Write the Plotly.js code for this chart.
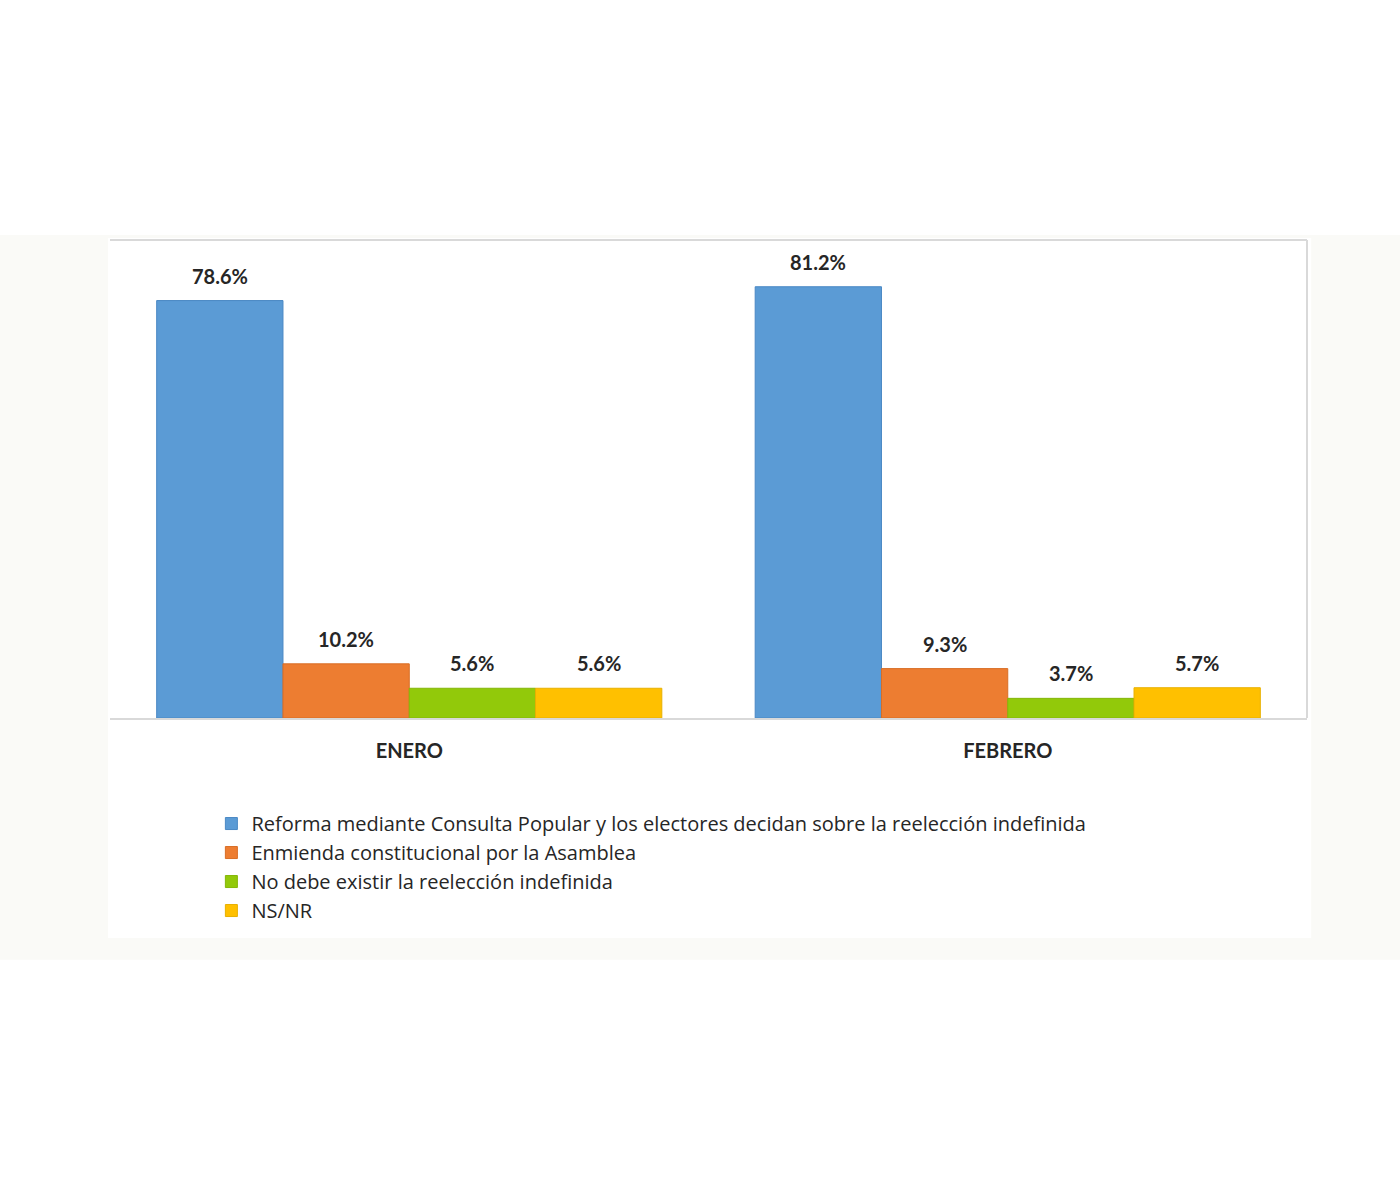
<!DOCTYPE html>
<html>
<head>
<meta charset="utf-8">
<script src="https://cdn.plot.ly/plotly-3.0.1.min.js"></script>
<style>
  html, body { margin: 0; padding: 0; background: #ffffff; }
  #chart { width: 1400px; height: 1200px; }
</style>
</head>
<body>
<div id="chart"></div>
<script>
const months = ["ENERO", "FEBRERO"];
const seriesNames = [
  "Reforma mediante Consulta Popular y los electores decidan sobre la reelección indefinida",
  "Enmienda constitucional por la Asamblea",
  "No debe existir la reelección indefinida",
  "NS/NR"
];
const reformaValues = [78.6, 81.2];
const enmiendaValues = [10.2, 9.3];
const noDebeValues = [5.6, 3.7];
const nsnrValues = [5.6, 5.7];
const seriesColors = ["#5b9bd5", "#ed7d31", "#92c90a", "#ffc000"];
const seriesLines = ["#4a88c4", "#d86e25", "#84b608", "#e8b000"];

const allValues = [reformaValues, enmiendaValues, noDebeValues, nsnrValues];
const barGap = 0.156;
const nSeries = allValues.length;
const barWidth = (1 - barGap) / nSeries;

const labelFont = { family: "Lato, 'DejaVu Sans', sans-serif", size: 20, color: "#262626", weight: "bold" };

const traces = allValues.map((vals, i) => ({
  type: "bar",
  name: seriesNames[i],
  x: months,
  y: vals,
  marker: { color: seriesColors[i], line: { color: seriesLines[i], width: 1 } },
  hoverinfo: "none"
}));

const annotations = [];
allValues.forEach((vals, i) => {
  vals.forEach((v, j) => {
    annotations.push({
      xref: "x", yref: "y",
      x: j + (i - (nSeries - 1) / 2) * barWidth,
      y: v,
      text: v.toFixed(1) + "%",
      showarrow: false,
      xanchor: "center",
      yanchor: "bottom",
      yshift: 11,
      font: labelFont
    });
  });
});

const layout = {
  width: 1400,
  height: 1200,
  paper_bgcolor: "#ffffff",
  plot_bgcolor: "#ffffff",
  margin: { l: 110, r: 93, t: 240, b: 482 },
  barmode: "group",
  bargap: barGap,
  bargroupgap: 0,
  showlegend: true,
  legend: {
    orientation: "v",
    x: 0.0847,
    xanchor: "left",
    y: -0.18,
    yanchor: "top",
    bgcolor: "rgba(0,0,0,0)",
    font: { family: "'Open Sans', 'DejaVu Sans', sans-serif", size: 20, color: "#262626" },
    tracegroupgap: 0,
    traceorder: "normal",
    itemclick: false
  },
  xaxis: {
    type: "category",
    showline: true,
    linecolor: "#d9d9d9",
    linewidth: 2,
    ticks: "",
    showgrid: false,
    zeroline: false,
    ticklabelstandoff: 14,
    tickfont: { family: "Lato, 'DejaVu Sans', sans-serif", size: 20, color: "#262626", weight: "bold" },
    fixedrange: true
  },
  yaxis: {
    range: [0, 90],
    visible: false,
    showgrid: false,
    zeroline: false,
    fixedrange: true
  },
  annotations: annotations,
  shapes: [
    { type: "rect", xref: "paper", yref: "paper", x0: -0.0919, x1: 1.0777, y0: -0.506, y1: 1.0105,
      fillcolor: "#fafaf7", line: { width: 0 }, layer: "below" },
    { type: "rect", xref: "paper", yref: "paper", x0: -0.0017, x1: 1.0035, y0: -0.4603, y1: 1.0042,
      fillcolor: "#ffffff", line: { width: 0 }, layer: "below" },
    { type: "line", xref: "paper", yref: "paper", x0: 0, x1: 1, y0: 1, y1: 1,
      line: { color: "#d9d9d9", width: 2 } },
    { type: "line", xref: "paper", yref: "paper", x0: 1, x1: 1, y0: 0, y1: 1,
      line: { color: "#d9d9d9", width: 2 } }
  ]
};

Plotly.newPlot("chart", traces, layout, { displayModeBar: false, staticPlot: true });
</script>
</body>
</html>
